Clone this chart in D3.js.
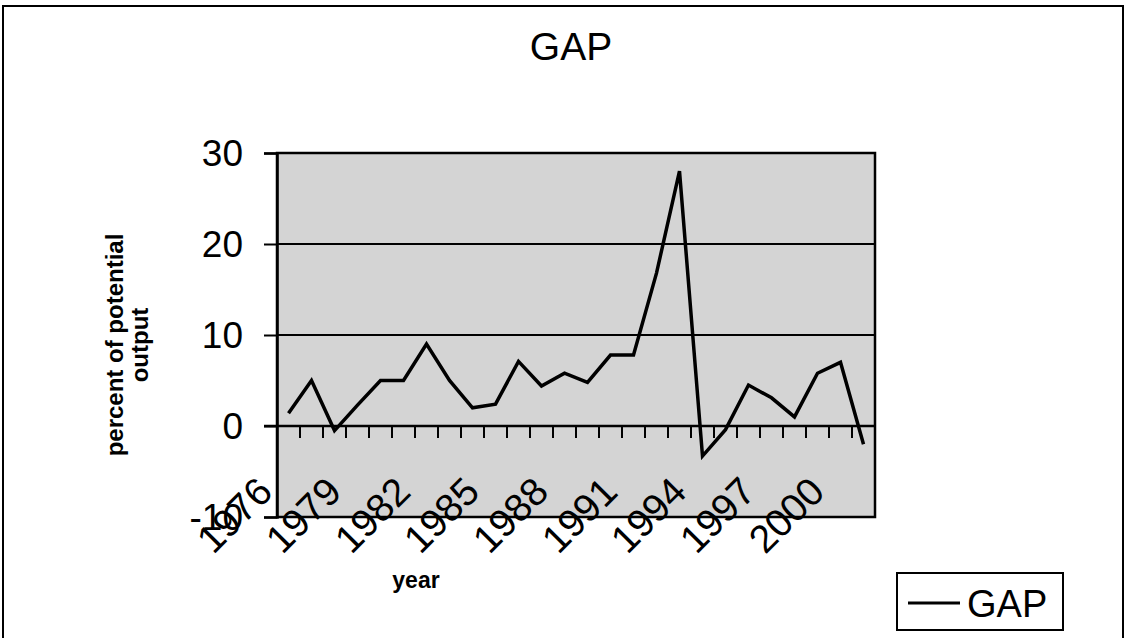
<!DOCTYPE html>
<html><head><meta charset="utf-8">
<script src="https://cdn.jsdelivr.net/npm/d3@7"></script>
<style>html,body{margin:0;padding:0;background:#fff;}svg{display:block;}</style>
</head><body>
<svg id="c" width="1126" height="638"></svg>
<script>
const years = [1976,1977,1978,1979,1980,1981,1982,1983,1984,1985,1986,1987,1988,1989,1990,1991,1992,1993,1994,1995,1996,1997,1998,1999,2000,2001];
const gap = [1.4,5.0,-0.5,2.3,5.0,5.0,9.0,5.0,2.0,2.4,7.1,4.4,5.8,4.8,7.8,7.8,16.8,28.0,-3.3,-0.4,4.5,3.1,1.0,5.8,7.0,-2.0];
const yTicks = [-10,0,10,20,30];
const xLabelYears = [1976,1979,1982,1985,1988,1991,1994,1997,2000];
const title = "GAP";
const seriesName = "GAP";

const svg = d3.select("#c");
const F = "Arial, 'Liberation Sans', Helvetica, sans-serif";
const L = 277, R = 875, T = 153, B = 517;

// outer frame
svg.append("rect").attr("x",3).attr("y",6).attr("width",1120).attr("height",636)
  .attr("fill","none").attr("stroke","#000").attr("stroke-width",2);

svg.append("text").attr("x",571).attr("y",60).attr("text-anchor","middle")
  .attr("font-family",F).attr("font-size",39).text(title);

const x = d3.scaleBand().domain(years).range([L,R]).padding(0);
const y = d3.scaleLinear().domain([-10,30]).range([B,T]);

// plot background
svg.append("rect").attr("x",L).attr("y",T).attr("width",R-L).attr("height",B-T)
  .attr("fill","#d4d4d4");

// gridlines
svg.append("g").selectAll("line").data([10,20]).join("line")
  .attr("x1",L).attr("x2",R).attr("y1",d=>y(d)).attr("y2",d=>y(d))
  .attr("stroke","#000").attr("stroke-width",2);

// plot border
svg.append("rect").attr("x",L).attr("y",T).attr("width",R-L).attr("height",B-T)
  .attr("fill","none").attr("stroke","#000").attr("stroke-width",2.5);

// y axis
const yAxis = d3.axisLeft(y).tickValues(yTicks).tickSize(13).tickPadding(20).tickFormat(d=>String(d));
const gy = svg.append("g").attr("transform",`translate(${L},0)`).call(yAxis);
gy.select(".domain").attr("stroke","#000").attr("stroke-width",2.5);
gy.selectAll(".tick line").attr("stroke","#000").attr("stroke-width",2);
gy.selectAll(".tick text").attr("font-family",F).attr("font-size",37).attr("fill","#000").attr("dx","-1").attr("dy","0.35em");

// x axis at zero
const y0 = y(0);
svg.append("line").attr("x1",L-13).attr("x2",R).attr("y1",y0).attr("y2",y0)
  .attr("stroke","#000").attr("stroke-width",2.5);
const bounds = years.slice(1).map(v=>x(v));
svg.append("g").selectAll("line").data(bounds).join("line")
  .attr("x1",d=>d).attr("x2",d=>d).attr("y1",y0).attr("y2",y0+12)
  .attr("stroke","#000").attr("stroke-width",2);

// x labels
svg.append("g").selectAll("text").data(xLabelYears).join("text")
  .attr("transform",d=>`translate(${x(d)+x.bandwidth()/2-14},494) rotate(-45)`)
  .attr("text-anchor","end").attr("font-family",F).attr("font-size",39).text(d=>d);

// line
const line = d3.line().x((d,i)=>x(years[i])+x.bandwidth()/2).y(d=>y(d));
svg.append("path").datum(gap).attr("d",line).attr("fill","none")
  .attr("stroke","#000").attr("stroke-width",3.5).attr("stroke-linejoin","miter");

// axis titles
svg.append("text").attr("x",416).attr("y",588).attr("text-anchor","middle")
  .attr("font-family",F).attr("font-weight","bold").attr("font-size",23).text("year");
const yt = svg.append("text").attr("transform","translate(123,345) rotate(-90)")
  .attr("text-anchor","middle").attr("font-family",F).attr("font-weight","bold").attr("font-size",24);
yt.append("tspan").attr("x",0).attr("y",0).text("percent of potential");
yt.append("tspan").attr("x",0).attr("y",25).text("output");

// legend
svg.append("rect").attr("x",897).attr("y",573).attr("width",166).attr("height",57)
  .attr("fill","#fff").attr("stroke","#000").attr("stroke-width",2);
svg.append("line").attr("x1",908).attr("x2",960).attr("y1",603).attr("y2",603)
  .attr("stroke","#000").attr("stroke-width",3);
svg.append("text").attr("x",967).attr("y",617).attr("font-family",F).attr("font-size",38).text(seriesName);
</script>
</body></html>
